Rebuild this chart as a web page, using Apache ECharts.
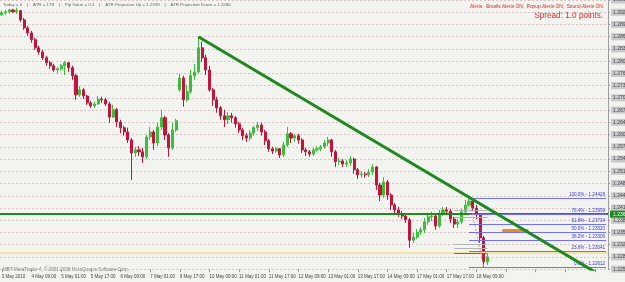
<!DOCTYPE html>
<html>
<head>
<meta charset="utf-8">
<script src="https://cdn.jsdelivr.net/npm/echarts@6/dist/echarts.min.js"></script>
<style>
html,body{margin:0;padding:0;background:#f3f3ef;}
#chart{width:625px;height:282px;}
</style>
</head>
<body>
<div id="chart"></div>
<script>
// H1 chart, drawn as 2-hour candles
var timeLabels = ['3 May 2010', '4 May 09:00', '5 May 01:00', '5 May 17:00', '6 May 09:00', '7 May 01:00',
	'9 May 17:00', '10 May 09:00', '11 May 01:00', '11 May 17:00', '12 May 09:00', '13 May 01:00',
	'13 May 17:00', '14 May 09:00', '17 May 01:00', '17 May 17:00', '18 May 09:00'];

// [open, close, low, high]
var candles = [
	[1.2921,1.2927,1.2919,1.2932],[1.2927,1.2929,1.2921,1.2934],[1.2929,1.2934,1.2924,1.2937],[1.2934,1.2929,1.2927,1.2937],
	[1.2929,1.2932,1.2924,1.2940],[1.2932,1.2908,1.2903,1.2934],[1.2908,1.2887,1.2882,1.2913],[1.2887,1.2874,1.2866,1.2892],
	[1.2874,1.2856,1.2848,1.2879],[1.2856,1.2835,1.2830,1.2861],[1.2835,1.2824,1.2817,1.2840],[1.2824,1.2809,1.2803,1.2830],
	[1.2809,1.2796,1.2788,1.2814],[1.2796,1.2788,1.2780,1.2801],[1.2788,1.2777,1.2772,1.2793],[1.2777,1.2780,1.2769,1.2785],
	[1.2780,1.2788,1.2775,1.2793],[1.2788,1.2796,1.2764,1.2801],[1.2796,1.2783,1.2772,1.2798],[1.2783,1.2762,1.2751,1.2788],
	[1.2762,1.2712,1.2699,1.2767],[1.2712,1.2725,1.2707,1.2735],[1.2725,1.2709,1.2701,1.2730],[1.2709,1.2691,1.2686,1.2712],
	[1.2691,1.2683,1.2678,1.2696],[1.2683,1.2688,1.2678,1.2694],[1.2688,1.2701,1.2686,1.2709],[1.2701,1.2699,1.2691,1.2707],
	[1.2699,1.2688,1.2683,1.2704],[1.2688,1.2654,1.2639,1.2694],[1.2654,1.2673,1.2652,1.2686],[1.2673,1.2641,1.2628,1.2678],
	[1.2641,1.2626,1.2612,1.2647],[1.2626,1.2615,1.2605,1.2631],[1.2615,1.2594,1.2586,1.2626],[1.2594,1.2560,1.2489,1.2599],
	[1.2560,1.2568,1.2550,1.2576],[1.2568,1.2563,1.2552,1.2578],[1.2563,1.2550,1.2534,1.2573],[1.2550,1.2602,1.2544,1.2607],
	[1.2602,1.2615,1.2594,1.2628],[1.2615,1.2586,1.2568,1.2620],[1.2586,1.2628,1.2578,1.2639],[1.2628,1.2652,1.2620,1.2673],
	[1.2652,1.2607,1.2594,1.2657],[1.2607,1.2573,1.2550,1.2612],[1.2573,1.2620,1.2568,1.2639],[1.2620,1.2644,1.2615,1.2649],
	[1.2725,1.2756,1.2720,1.2767],[1.2756,1.2699,1.2681,1.2762],[1.2699,1.2720,1.2694,1.2738],[1.2720,1.2762,1.2715,1.2777],
	[1.2762,1.2772,1.2751,1.2793],[1.2772,1.2835,1.2767,1.2864],[1.2835,1.2809,1.2798,1.2851],[1.2809,1.2777,1.2764,1.2817],
	[1.2777,1.2725,1.2720,1.2788],[1.2725,1.2699,1.2683,1.2730],[1.2699,1.2678,1.2665,1.2707],[1.2678,1.2657,1.2647,1.2683],
	[1.2657,1.2647,1.2628,1.2673],[1.2647,1.2657,1.2636,1.2667],[1.2657,1.2652,1.2639,1.2665],[1.2652,1.2636,1.2626,1.2657],
	[1.2636,1.2620,1.2612,1.2641],[1.2620,1.2605,1.2594,1.2626],[1.2605,1.2599,1.2589,1.2612],[1.2599,1.2612,1.2592,1.2620],
	[1.2612,1.2626,1.2605,1.2631],[1.2626,1.2633,1.2618,1.2641],[1.2633,1.2615,1.2605,1.2639],[1.2615,1.2592,1.2581,1.2620],
	[1.2592,1.2571,1.2563,1.2597],[1.2571,1.2565,1.2557,1.2576],[1.2565,1.2571,1.2560,1.2576],[1.2571,1.2555,1.2547,1.2573],
	[1.2555,1.2581,1.2550,1.2589],[1.2581,1.2610,1.2576,1.2628],[1.2610,1.2599,1.2586,1.2615],[1.2599,1.2605,1.2589,1.2610],
	[1.2605,1.2594,1.2584,1.2610],[1.2594,1.2568,1.2560,1.2599],[1.2568,1.2563,1.2552,1.2573],[1.2563,1.2557,1.2550,1.2568],
	[1.2557,1.2568,1.2552,1.2573],[1.2568,1.2571,1.2563,1.2578],[1.2571,1.2576,1.2565,1.2581],[1.2576,1.2586,1.2571,1.2594],
	[1.2586,1.2594,1.2578,1.2602],[1.2594,1.2563,1.2550,1.2597],[1.2563,1.2537,1.2523,1.2568],[1.2537,1.2539,1.2529,1.2547],
	[1.2539,1.2531,1.2523,1.2544],[1.2531,1.2534,1.2523,1.2542],[1.2534,1.2544,1.2526,1.2552],[1.2544,1.2516,1.2505,1.2547],
	[1.2516,1.2503,1.2492,1.2521],[1.2503,1.2505,1.2495,1.2513],[1.2505,1.2503,1.2495,1.2510],[1.2503,1.2510,1.2497,1.2518],
	[1.2510,1.2523,1.2503,1.2531],[1.2523,1.2476,1.2463,1.2526],[1.2476,1.2450,1.2434,1.2482],[1.2450,1.2484,1.2442,1.2497],
	[1.2484,1.2450,1.2437,1.2489],[1.2450,1.2424,1.2411,1.2455],[1.2424,1.2411,1.2403,1.2429],[1.2411,1.2400,1.2393,1.2419],
	[1.2400,1.2395,1.2387,1.2408],[1.2395,1.2385,1.2377,1.2403],[1.2385,1.2332,1.2312,1.2390],[1.2332,1.2340,1.2325,1.2351],
	[1.2340,1.2353,1.2335,1.2361],[1.2353,1.2359,1.2346,1.2366],[1.2359,1.2380,1.2351,1.2390],[1.2380,1.2393,1.2372,1.2403],
	[1.2393,1.2395,1.2382,1.2406],[1.2395,1.2369,1.2359,1.2400],[1.2369,1.2400,1.2364,1.2411],[1.2400,1.2411,1.2395,1.2419],
	[1.2411,1.2408,1.2400,1.2419],[1.2408,1.2387,1.2377,1.2414],[1.2387,1.2374,1.2364,1.2393],[1.2374,1.2380,1.2364,1.2387],
	[1.2380,1.2406,1.2374,1.2414],[1.2406,1.2424,1.2400,1.2437],[1.2424,1.2434,1.2419,1.2443],[1.2434,1.2416,1.2408,1.2440],
	[1.2416,1.2398,1.2387,1.2424],[1.2398,1.2338,1.2325,1.2403],[1.2338,1.2275,1.2261,1.2343],[1.2275,1.2288,1.2267,1.2298]
];

var slotCount = 164; // candles + empty space on the right (chart shift)

var trendLine = [[53, 1.2864], [161, 1.2243]];

var fibHigh = 1.24428, fibLow = 1.22612;
var fibLevels = [100, 76.4, 61.8, 50, 38.2, 23.6, 0];
var fibFrom = 126, fibTo = 163;
var fibDiagonal = [[126, 1.2443], [130, 1.2261]];

var greenLevel = 1.2361;
var yellowLevel = 1.2293;
var orangeZone = [[135, 1.2358], [142, 1.2358]];
var grayLevels = [1.2411, 1.2393, 1.2320, 1.2310];
var brownLevel = 1.2298;
var shortFrom = 122, shortTo = 131;

var infoText = 'Today = 0    |    ATR = 178    |    Pip Value = 0.1    |    ATR Projection Up = 1.2339    |    ATR Projection Down = 1.2266';
var alertText = 'Alerts:  Emails Alerts ON,  Popup Alerts ON,  Sound Alerts ON.';
var spreadText = 'Spread: 1.0 points.';
var copyText = 'MBT-MetaTrader 4, \u00a9 2001-2008 MetaQuotes Software Corp.';

var categories = [];
for (var i = 0; i < slotCount; i++) categories.push(String(i));

var marks = [];
// full width lines
marks.push({ yAxis: greenLevel, lineStyle: { color: '#1d8a1d', width: 2, type: 'solid' },
	label: { show: true, position: 'end', distance: 2, formatter: greenLevel.toFixed(5), color: '#fff',
		backgroundColor: '#1d8a1d', fontSize: 5, padding: [1, 3], fontFamily: 'Liberation Sans' } });
marks.push({ yAxis: yellowLevel, lineStyle: { color: '#f7e3a6', width: 2, type: 'solid' }, label: { show: false } });
// short gray lines around the last swing
grayLevels.forEach(function(p) {
	marks.push([{ coord: [shortFrom, p], lineStyle: { color: '#b4b4b4', width: 1, type: 'solid' }, label: { show: false } },
		{ coord: [shortTo, p] }]);
});
marks.push([{ coord: [shortFrom, brownLevel], lineStyle: { color: '#7a6a55', width: 1, type: 'solid' }, label: { show: false } },
	{ coord: [shortTo, brownLevel] }]);
// fibo
fibLevels.forEach(function(l) {
	var p = fibLow + (fibHigh - fibLow) * l / 100;
	marks.push([{ coord: [fibFrom, p], lineStyle: { color: '#7070ff', width: 1, type: 'solid' },
		label: { show: true, position: 'insideEndTop', distance: 1, formatter: l.toFixed(1) + '% - ' + p.toFixed(5),
			color: '#3a3af0', fontSize: 4.6, fontFamily: 'Liberation Sans' } },
		{ coord: [fibTo, p] }]);
});
marks.push([{ coord: fibDiagonal[0], lineStyle: { color: '#e89090', width: 1, type: [2, 2] }, label: { show: false } },
	{ coord: fibDiagonal[1] }]);
marks.push([{ coord: orangeZone[0], lineStyle: { color: '#f08a10', width: 3, type: 'solid' }, label: { show: false } },
	{ coord: orangeZone[1] }]);

var myChart = echarts.init(document.getElementById('chart'), null, { renderer: 'canvas' });

var option = {
	backgroundColor: '#f3f3ef',
	animation: false,
	textStyle: { fontFamily: 'Liberation Sans' },
	grid: { left: 0, right: 17, top: 0, bottom: 12.8, containLabel: false, outerBoundsMode: 'none' },
	xAxis: {
		type: 'category',
		data: categories,
		boundaryGap: true,
		axisLine: { show: false },
		axisTick: { show: true, interval: 7, alignWithLabel: true, length: 3, lineStyle: { color: '#999' } },
		axisLabel: {
			interval: 7, align: 'left', margin: 5, fontSize: 4.5, color: '#444',
			formatter: function(v, idx) { return timeLabels[idx / 8] || ''; }
		},
		splitLine: { show: false }
	},
	yAxis: {
		type: 'value',
		position: 'right',
		min: 1.2256,
		max: 1.2960,
		interval: 0.0032,
		axisLine: { show: true, lineStyle: { color: '#9c9c9c' } },
		axisTick: { show: true, length: 2, lineStyle: { color: '#9c9c9c' } },
		axisLabel: {
			margin: 3, fontSize: 5, color: '#4a4a4a', backgroundColor: '#c9c9c9', padding: [1, 4, 1, 2],
			formatter: function(v) { return v.toFixed(5); }
		},
		splitLine: { show: true, lineStyle: { color: '#dcc2c2', type: [2, 2], width: 1 } }
	},
	series: [{
		name: 'price',
		type: 'candlestick',
		data: candles,
		barWidth: '70%',
		itemStyle: {
			color: '#3dbd3d', color0: '#c4143c',
			borderColor: '#3dbd3d', borderColor0: '#c4143c', borderWidth: 1
		},
		markLine: { silent: true, symbol: ['none', 'none'], animation: false, data: marks }
	}, {
		name: 'trend',
		type: 'line',
		data: trendLine,
		symbol: 'none',
		lineStyle: { color: '#1e8a1e', width: 3 },
		z: 5
	}],
	graphic: [
		{ type: 'text', left: 3, top: 3, style: { text: infoText, fontSize: 4.4, fill: '#666', fontFamily: 'Liberation Sans' } },
		{ type: 'text', right: 21, top: 4, style: { text: alertText, fontSize: 4.8, fill: '#e02828', fontFamily: 'Liberation Sans' } },
		{ type: 'text', right: 22, top: 12, style: { text: spreadText, fontSize: 8.2, fill: '#ee2424', fontFamily: 'Liberation Sans' } },
		{ type: 'text', left: 3, top: 267, style: { text: copyText, fontSize: 4.6, fill: '#777', fontFamily: 'Liberation Sans' } }
	]
};

myChart.setOption(option);
</script>
</body>
</html>
